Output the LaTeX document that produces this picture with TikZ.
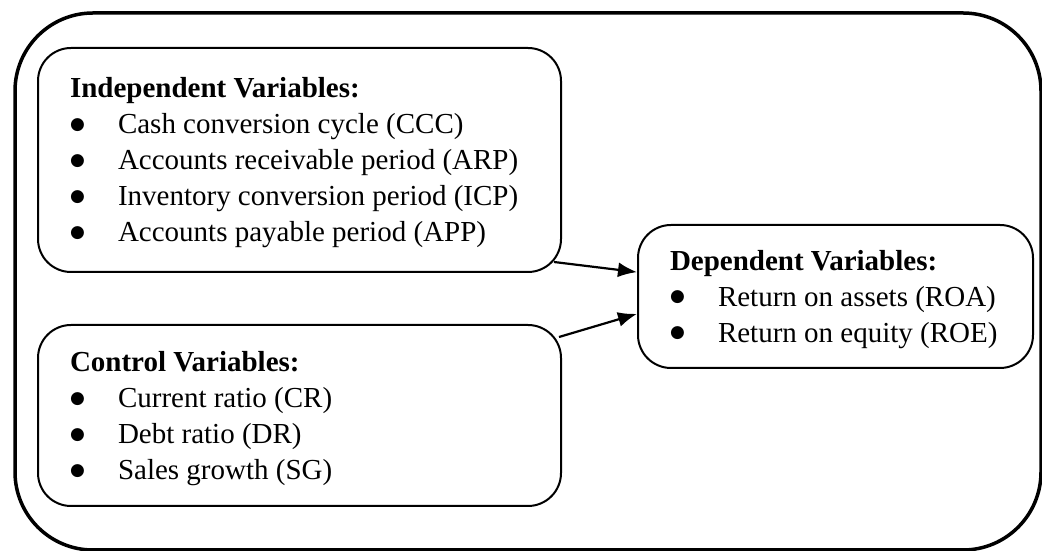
\documentclass[tikz,border=0pt]{standalone}
\usepackage{fontspec}
\setmainfont{Liberation Serif}
\newfontfamily\dotfont{DejaVu Sans}
\usepackage{tikz}
\usetikzlibrary{arrows,arrows.meta,calc}

\newcommand{\itm}{\makebox[48pt][l]{\raisebox{4.5pt}{\fontsize{17}{17}\selectfont\dotfont ●}}}

\begin{document}
\begin{tikzpicture}[x=1pt,y=1pt,
  varbox/.style={draw, line width=2pt, rounded corners=33pt, anchor=north west, inner xsep=32pt, inner ysep=0pt},
  link/.style={line width=2.2pt, -{Latex[length=19pt,width=15pt]}}]
\useasboundingbox (0,0) rectangle (1042,551);
% outer frame
\draw [line width=3.5pt, rounded corners=78pt] (15,1) rectangle (1041,538);
\node [varbox, minimum height=224pt] (indep) at (37,504) {
\begin{minipage}{459pt}
\fontsize{29}{36}\selectfont\vspace*{6pt}
\textbf{Independent Variables:}\\
\itm Cash conversion cycle (CCC)\\
\itm Accounts receivable period (ARP)\\
\itm Inventory conversion period (ICP)\\
\itm Accounts payable period (APP)
\end{minipage} };
\node [varbox, minimum height=181pt] (ctrl) at (37,227) {
\begin{minipage}{459pt}
\fontsize{29}{36}\selectfont\vspace*{7pt}
\textbf{Control Variables:}\\
\itm Current ratio (CR)\\
\itm Debt ratio (DR)\\
\itm Sales growth (SG)
\end{minipage} };
\node [varbox, minimum height=143pt] (dep) at (637,327) {
\begin{minipage}{331pt}
\fontsize{29}{36}\selectfont\vspace*{6pt}
\textbf{Dependent Variables:}\\
\itm Return on assets (ROA)\\
\itm Return on equity (ROE)
\end{minipage} };
% arrows
\draw [link] ($(indep.south east)+(-8,11)$) -- (dep.173.5);
\draw [link] ($(ctrl.north east)+(-3,-13)$) -- (dep.185.6);
\end{tikzpicture}
\end{document}
